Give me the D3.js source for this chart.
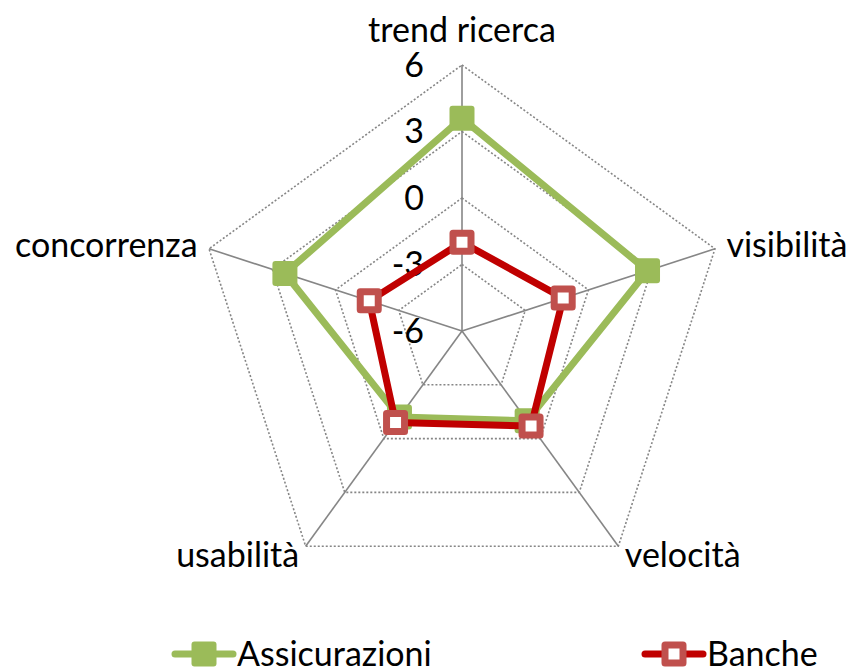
<!DOCTYPE html>
<html><head><meta charset="utf-8">
<script src="https://cdn.jsdelivr.net/npm/d3@7"></script>
<style>body{margin:0;background:#fff}svg{display:block}text{font-family:Lato,"Open Sans",sans-serif;fill:#000}</style>
</head><body>
<svg id="c" width="852" height="668"></svg>
<script>
const categories = ["trend ricerca","visibilità","velocità","usabilità","concorrenza"];
const assicurazioni = [3.6, 2.8, -1.0, -1.2, 2.4];
const banche = [-2.0, -1.2, -0.7, -0.9, -1.6];
const tickValues = [-6, -3, 0, 3, 6];
const seriesNames = ["Assicurazioni","Banche"];

const svg = d3.select("#c");
const cx = 462, cy = 331, R = 266;
const fs = 34;
const r = d3.scaleLinear().domain([-6, 6]).range([0, R]);
const ang = d3.scalePoint().domain(categories).range([0, 2*Math.PI*4/5]);
const pt = (c, v) => { const a = ang(c); return [cx + r(v)*Math.sin(a), cy - r(v)*Math.cos(a)]; };

const g = svg.append("g");
// gridlines
tickValues.filter(t => t > -6).forEach(t => {
  g.append("polygon")
    .attr("points", categories.map(c => pt(c, t).join(",")).join(" "))
    .attr("fill", "none").attr("stroke", "#868686").attr("stroke-width", 1.6)
    .attr("stroke-dasharray", "2,2");
});
// spokes
categories.forEach(c => {
  const [x, y] = pt(c, 6);
  g.append("line").attr("x1", cx).attr("y1", cy).attr("x2", x).attr("y2", y)
    .attr("stroke", "#868686").attr("stroke-width", 1.6);
});
// tick labels
tickValues.forEach(t => {
  g.append("text").attr("x", cx - 38).attr("y", cy - r(t)).attr("dy", "0.35em")
    .attr("text-anchor", "end").attr("font-size", fs).text(t);
});
// axis labels
categories.forEach(c => {
  const a = ang(c), [x, y] = pt(c, 6);
  const sx = Math.sin(a), cyv = -Math.cos(a);
  const t = g.append("text").attr("font-size", fs).text(c);
  if (Math.abs(sx) < 0.01) {
    t.attr("x", x).attr("y", y - 23).attr("text-anchor", "middle");
  } else {
    const pad = cyv > 0 ? 11 : 12;
    t.attr("x", x + sx*pad).attr("y", y + cyv*pad).attr("dy", "0.35em")
      .attr("text-anchor", sx > 0 ? "start" : "end");
  }
});

const line = d3.line().curve(d3.curveLinearClosed);
function drawSeries(vals, lineColor, markerFn) {
  const pts = categories.map((c, i) => pt(c, vals[i]));
  g.append("path").attr("d", line(pts)).attr("fill", "none")
    .attr("stroke", lineColor).attr("stroke-width", 7).attr("stroke-linejoin", "round");
  pts.forEach(p => markerFn(g, p[0], p[1]));
}
const greenMarker = (sel, x, y) => sel.append("rect").attr("x", x-12.5).attr("y", y-12.5)
  .attr("width", 25).attr("height", 25).attr("rx", 3).attr("fill", "#9BBB59");
const redMarker = (sel, x, y) => sel.append("rect").attr("x", x-9).attr("y", y-9)
  .attr("width", 18).attr("height", 18).attr("fill", "#fff")
  .attr("stroke", "#C0504D").attr("stroke-width", 7).attr("stroke-linejoin", "round");

drawSeries(assicurazioni, "#9BBB59", greenMarker);
drawSeries(banche, "#C00000", redMarker);

// legend
const leg = [
  {name: seriesNames[0], x: 175, color: "#9BBB59", m: greenMarker},
  {name: seriesNames[1], x: 645, color: "#C00000", m: redMarker}
];
leg.forEach(l => {
  const y = 654;
  svg.append("line").attr("x1", l.x).attr("x2", l.x + 58).attr("y1", y).attr("y2", y)
    .attr("stroke", l.color).attr("stroke-width", 7).attr("stroke-linecap", "round");
  l.m(svg, l.x + 29, y);
  svg.append("text").attr("x", l.x + 62).attr("y", y).attr("dy", "0.35em")
    .attr("font-size", fs).text(l.name);
});
</script>
</body></html>
